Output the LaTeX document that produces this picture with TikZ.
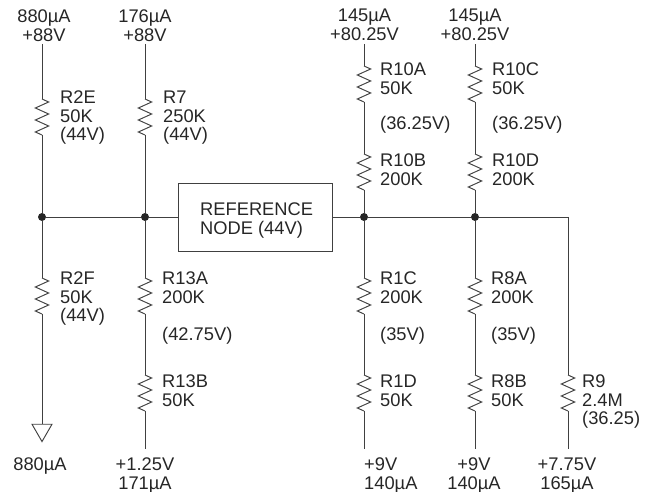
\documentclass[tikz,border=0pt]{standalone}
\usepackage{fontspec}
\setmainfont{Liberation Sans}
\usetikzlibrary{decorations.pathmorphing,shapes.geometric}

\begin{document}
\begin{tikzpicture}[x=1pt,y=-1pt,
	every node/.style={font=\fontsize{18.3}{18.4}\selectfont,inner sep=0pt,align=left,text=black!85},
	wire/.style={draw=black!75,line width=0.95pt},
	resistor/.style={wire,decorate,decoration={zigzag,segment length=12pt,amplitude=6.7pt}},
	junction/.style={circle,fill=black!85,minimum size=8pt},
	lab/.style={anchor=north west},
	volt/.style={anchor=north,align=center}]
	\useasboundingbox (0,0) rectangle (646,492);
	% supply ends
	\node[volt] (t1) at (44,10)  {880µA\\+88V};
	\node[volt] (t2) at (145,10) {176µA\\+88V};
	\node[volt] (t3) at (364.5,9) {145µA\\+80.25V};
	\node[volt] (t4) at (475,9)  {145µA\\+80.25V};
	\node[volt] (b2) at (145,458) {+1.25V\\171µA};
	\node[anchor=north west] (b3) at (364,458) {+9V\\140µA};
	\node[volt] (b4) at (474,458) {+9V\\140µA};
	\node[volt] (b5) at (567,458) {+7.75V\\165µA};
	\node[volt] (b1) at (40,458)  {880µA};
	% junctions and reference box
	\node[junction] (j1) at (42,217)  {};
	\node[junction] (j2) at (145,217) {};
	\node[junction] (j3) at (364,217) {};
	\node[junction] (j4) at (475,217) {};
	\node[wire,draw,minimum width=154pt,minimum height=68pt] (ref) at (255,217) {};
	\node[lab] (reftext) at (200,203) {REFERENCE\\NODE (44V)};
	\node[wire,draw,regular polygon,regular polygon sides=3,shape border rotate=180,minimum size=23.1pt] (gnd) at (42,430) {};
	% free ends of the wires
	\coordinate (w1) at (42,44);
	\coordinate (w2) at (145,44);
	\coordinate (w3) at (364,44);
	\coordinate (w4) at (475,44);
	\coordinate (w5) at (145,449);
	\coordinate (w6) at (364,449);
	\coordinate (w7) at (475,449);
	\coordinate (w8) at (568,449);
	\coordinate (bend) at (568,217);
	% resistor ends
	\coordinate (r2e1) at (42,99);    \coordinate (r2e2) at (42,135);
	\coordinate (r71) at (145,99);    \coordinate (r72) at (145,135);
	\coordinate (r2f1) at (42,278);   \coordinate (r2f2) at (42,314);
	\coordinate (r13a1) at (145,278); \coordinate (r13a2) at (145,314);
	\coordinate (r13b1) at (145,375); \coordinate (r13b2) at (145,411);
	\coordinate (r10a1) at (364,66);  \coordinate (r10a2) at (364,102);
	\coordinate (r10b1) at (364,154); \coordinate (r10b2) at (364,190);
	\coordinate (r10c1) at (475,66);  \coordinate (r10c2) at (475,102);
	\coordinate (r10d1) at (475,154); \coordinate (r10d2) at (475,190);
	\coordinate (r1c1) at (364,278);  \coordinate (r1c2) at (364,314);
	\coordinate (r1d1) at (364,375);  \coordinate (r1d2) at (364,411);
	\coordinate (r8a1) at (475,278);  \coordinate (r8a2) at (475,314);
	\coordinate (r8b1) at (475,375);  \coordinate (r8b2) at (475,411);
	\coordinate (r91) at (568,375);   \coordinate (r92) at (568,411);
	\foreach \from/\to in {
		r2e1/r2e2, r71/r72, r2f1/r2f2, r13a1/r13a2, r13b1/r13b2,
		r10a1/r10a2, r10b1/r10b2, r10c1/r10c2, r10d1/r10d2,
		r1c1/r1c2, r1d1/r1d2, r8a1/r8a2, r8b1/r8b2, r91/r92}
	\draw[resistor] (\from) -- (\to);
	\foreach \from/\to in {
		w1/r2e1, r2e2/j1, j1/r2f1, r2f2/gnd,
		w2/r71, r72/j2, j2/r13a1, r13a2/r13b1, r13b2/w5,
		w3/r10a1, r10a2/r10b1, r10b2/j3, j3/r1c1, r1c2/r1d1, r1d2/w6,
		w4/r10c1, r10c2/r10d1, r10d2/j4, j4/r8a1, r8a2/r8b1, r8b2/w7,
		j1/j2, j2/ref, ref/j3, j3/j4, j4/bend, bend/r91, r92/w8}
	\draw[wire] (\from) -- (\to);
	% values
	\node[lab] (l1) at (60,91)   {R2E\\50K\\(44V)};
	\node[lab] (l2) at (163,91)  {R7\\250K\\(44V)};
	\node[lab] (l3) at (60,272)  {R2F\\50K\\(44V)};
	\node[lab] (l4) at (162,272) {R13A\\200K};
	\node[lab] (l5) at (162,327) {(42.75V)};
	\node[lab] (l6) at (162,375) {R13B\\50K};
	\node[lab] (l7) at (380,63)  {R10A\\50K};
	\node[lab] (l8) at (380,116) {(36.25V)};
	\node[lab] (l9) at (380,154) {R10B\\200K};
	\node[lab] (l10) at (492,63)  {R10C\\50K};
	\node[lab] (l11) at (492,116) {(36.25V)};
	\node[lab] (l12) at (492,154) {R10D\\200K};
	\node[lab] (l13) at (380,272) {R1C\\200K};
	\node[lab] (l14) at (380,327) {(35V)};
	\node[lab] (l15) at (380,375) {R1D\\50K};
	\node[lab] (l16) at (491,272) {R8A\\200K};
	\node[lab] (l17) at (491,327) {(35V)};
	\node[lab] (l18) at (491,375) {R8B\\50K};
	\node[lab] (l19) at (582,375) {R9\\2.4M\\(36.25)};
\end{tikzpicture}
\end{document}
